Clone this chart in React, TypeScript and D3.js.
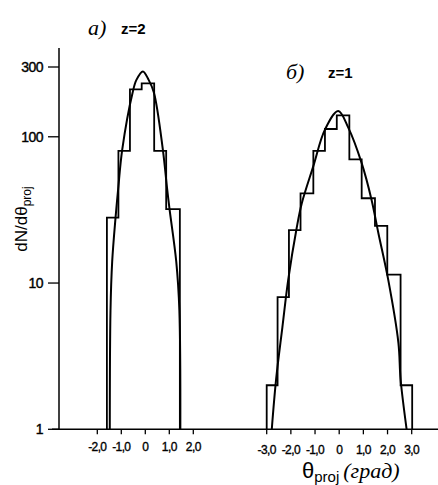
import * as d3 from 'd3';
import React from 'react';

// panel a) z=2 histogram: bin edges (deg) and counts
const binsA = [-1.6, -1.12, -0.64, -0.15, 0.37, 0.87, 1.44];
const countsA = [28, 80, 211, 232, 80, 32];
// fitted curve
const curveA = [
  [-1.48, 1], [-1.45, 6.5], [-1.38, 14], [-1.24, 28], [-1.13, 44], [-0.96, 82],
  [-0.53, 200], [-0.37, 245], [-0.1, 280], [0.14, 245], [0.36, 200], [0.73, 82],
  [0.91, 44], [1.01, 32], [1.29, 14], [1.42, 6.5], [1.46, 1],
];

// panel б) z=1
const binsB = [-3.0, -2.55, -2.08, -1.6, -1.07, -0.59, -0.1, 0.42, 0.93, 1.48, 1.99, 2.54, 3.02];
const countsB = [2, 8, 23, 41, 80, 113, 140, 70, 38, 24.6, 11.4, 2];
const curveB = [
  [-2.79, 1], [-2.61, 2.2], [-2.35, 5], [-2.11, 10.5], [-1.76, 23.8], [-1.55, 35],
  [-1.07, 63], [-0.59, 112], [-0.04, 150], [0.38, 115], [0.93, 66], [1.34, 37],
  [1.62, 22], [2.03, 10.5], [2.45, 3.9], [2.54, 2.2], [2.79, 1],
];

const ticksA = [-2, -1, 0, 1, 2];
const ticksB = [-3, -2, -1, 0, 1, 2, 3];
const yTicks = [1, 10, 100, 300];

const fmt = (v: number) => (v === 0 ? '0' : d3.format('.1f')(v).replace('.', ',').replace('\u2212', '-'));

const sans = "'Liberation Sans', Arial, sans-serif";
const serif = "'Liberation Serif', 'DejaVu Serif', serif";

const App = () => {
  const y = d3.scaleLog().domain([1, 300]).range([429.3, 67]);
  const xA = d3.scaleLinear().domain([-2, 2]).range([97.3, 193.3]);
  const xB = d3.scaleLinear().domain([-3, 3]).range([266.7, 411.7]);
  const axisY = 429.3;

  const stepPath = (x: d3.ScaleLinear<number, number>, edges: number[], counts: number[]) => {
    let p = `M${x(edges[0])},${axisY}`;
    counts.forEach((c, i) => {
      p += `L${x(edges[i])},${y(c)}L${x(edges[i + 1])},${y(c)}`;
    });
    p += `L${x(edges[edges.length - 1])},${axisY}`;
    return p;
  };

  const line = (x: d3.ScaleLinear<number, number>) =>
    d3.line<number[]>()
      .x(d => x(d[0]))
      .y(d => y(d[1]))
      .curve(d3.curveCatmullRom.alpha(0.5));

  const xTicks = (x: d3.ScaleLinear<number, number>, ticks: number[], ly: number) =>
    ticks.map(t => (
      <g key={t}>
        <line x1={x(t)} x2={x(t)} y1={axisY} y2={axisY + 5} stroke="#000" strokeWidth={1.3} />
        <text x={x(t)} y={ly} textAnchor="middle" fontSize={12} letterSpacing={-0.6}
          fontFamily={sans} fill="#000" stroke="#000" strokeWidth={0.35}>{fmt(t)}</text>
      </g>
    ));

  return (
    <svg width={438} height={485} style={{ position: 'absolute', left: 0, top: 0, background: '#fff' }}>
      {/* y axis */}
      <line x1={59} x2={59} y1={48} y2={axisY} stroke="#000" strokeWidth={1.5} />
      {yTicks.map(t => (
        <g key={t}>
          <line x1={48} x2={59} y1={y(t)} y2={y(t)} stroke="#000" strokeWidth={1.3} />
          <text x={43} y={y(t) + 5} textAnchor="end" fontSize={14} fontFamily={sans}
            letterSpacing={-0.5} fill="#000" stroke="#000" strokeWidth={0.4}>{t}</text>
        </g>
      ))}
      {/* x axis */}
      <line x1={52} x2={438} y1={axisY} y2={axisY} stroke="#000" strokeWidth={1.5} />
      {xTicks(xA, ticksA, 451)}
      {xTicks(xB, ticksB, 454)}

      {/* histograms */}
      <path d={stepPath(xA, binsA, countsA)} fill="none" stroke="#000" strokeWidth={1.8} />
      <path d={stepPath(xB, binsB, countsB)} fill="none" stroke="#000" strokeWidth={1.8} />
      <path d={line(xA)(curveA) || ''} fill="none" stroke="#000" strokeWidth={2} />
      <path d={line(xB)(curveB) || ''} fill="none" stroke="#000" strokeWidth={2} />

      {/* panel titles */}
      <text x={88} y={35} fontSize={22} fontStyle="italic" fontFamily={serif} fill="#000">а)</text>
      <text x={121} y={34} fontSize={15} fontFamily={sans} fontWeight="bold" fill="#000">z=2</text>
      <text x={286} y={79} fontSize={22} fontStyle="italic" fontFamily={serif} fill="#000">б)</text>
      <text x={328} y={78} fontSize={15} fontFamily={sans} fontWeight="bold" fill="#000">z=1</text>

      {/* axis labels */}
      <text transform="translate(27,219) rotate(-90)" textAnchor="middle" fontFamily={sans} fill="#000">
        <tspan fontSize={17}>dN/dθ</tspan>
        <tspan fontSize={12} dy={4}>proj</tspan>
      </text>
      <text x={302} y={478} fontFamily={sans} fill="#000">
        <tspan fontSize={22}>θ</tspan>
        <tspan fontSize={15} dy={4}>proj</tspan>
        <tspan fontSize={22} dy={-4} dx={4} fontFamily={serif} fontStyle="italic">(град)</tspan>
      </text>
    </svg>
  );
};

export default App;
